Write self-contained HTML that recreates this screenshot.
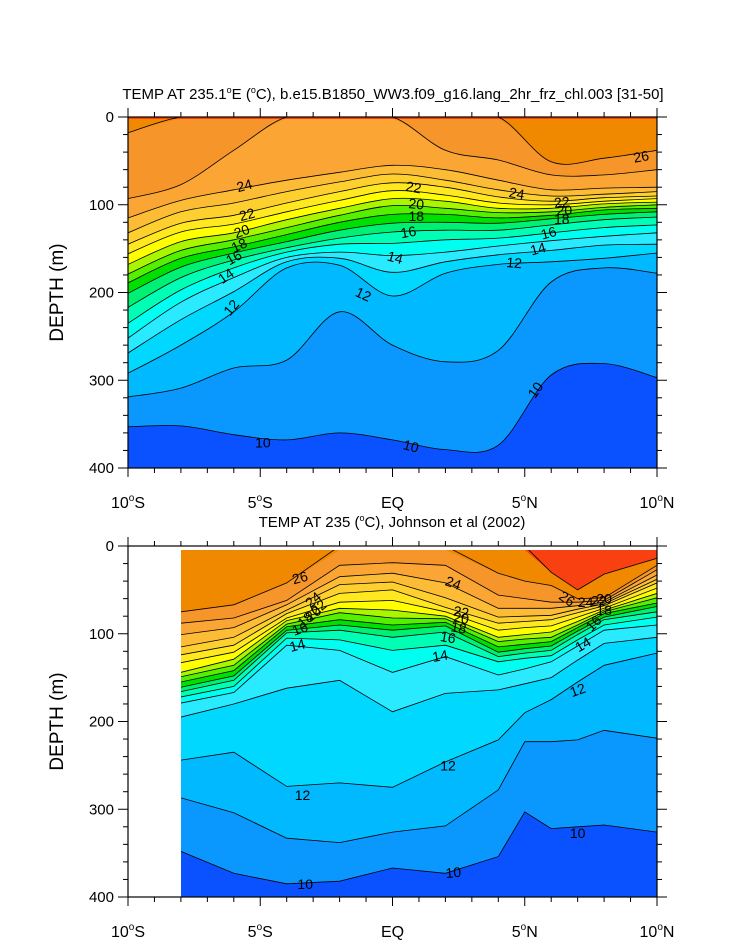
<!DOCTYPE html>
<html><head><meta charset="utf-8"><style>
html,body{margin:0;padding:0;background:#fff;}
svg{display:block;font-family:"Liberation Sans",Arial,sans-serif;}
</style></head><body>
<svg id="chart" width="733" height="945" viewBox="0 0 733 945" xmlns="http://www.w3.org/2000/svg">
<defs>
<clipPath id="clipTop"><rect x="128" y="117" width="529" height="351"/></clipPath>
<clipPath id="clipBot"><rect x="181" y="550" width="476" height="347"/></clipPath>
</defs>
<g id="topPanel"></g>
<g id="botPanel"></g>
</svg>
<script>
// ---------- data ----------
const levels = [10,11,12,13,14,15,16,17,18,19,20,21,22,23,24,25,26,27];
const bandColors = ["#0A98FF","#00B9FF","#00D8FF","#2AEAFF","#00FFF0","#00FFB4","#00F074","#00E000","#55F000","#AAF500","#FFFF00","#FFE820","#FDD030","#FCBC35","#FAA534","#F6952A","#F08800","#F84010"];
const coldColor = "#0A52FF";

const topLats = [-10,-8,-6,-4,-2,0,2,4,6,8,10];
const top10 = [353,352,362,368,360,368,379,374,294,281,297];
const top11 = [319,309,286,277,222,260,279,266,188,172,178];
const top12 = [292,260,222,172,169,204,178,168,165,161,155];
const top13 = [269,231,199,165,161,177,165,157,152,146,145];
const top14 = [252,211,183,160,154,158,154,147,141,136,132];
const top15 = [235,197,172,154,145,144,140,138,132,126,123];
const top16 = [217,183,163,149,138,131,129,129,123,117,114];
const top17 = [201,171,155,142,129,121,120,121,116,111,108];
const top18 = [189,161,148,134,120,111,111,115,112,106,104];
const top19 = [179,152,140,126,112,101,104,109,108,103,100];
const top20 = [168,142,132,117,104,93,96,104,104,99,97];
const top21 = [156,131,122,108,95,84,89,98,100,96,93];
const top22 = [145,121,112,98,85,75,80,91,96,92,90];
const top23 = [132,108,98,85,74,65,72,83,90,88,85];
const top24 = [115,95,83,72,63,55,60,72,83,81,80];
const top25 = [93,77,38,0,0,0,38,49,66,66,60];
const top26 = [18,0,0,0,0,0,0,0,51,47,38];
const top27 = [0,0,0,0,0,0,0,0,0,0,0];

const botLats = [-8,-6,-4,-2,0,2,4,5,6,7,8,10];
const bot10 = [348,373,385,382,367,373,354,303,322,320,318,326];
const bot11 = [287,304,333,338,326,319,278,223,223,221,210,219];
const bot12 = [244,235,274,270,275,246,221,190,175,155,136,122];
const bot13 = [195,180,162,153,189,168,164,157,150,130,111,104];
const bot14 = [179,167,113,119,144,126,147,140,132,114,96,90];
const bot15 = [172,160,105,107,119,113,132,128,125,107,90,81];
const bot16 = [166,153,99,96,104,98,126,122,119,101,84,75];
const bot17 = [161,148,96,90,96,91,121,117,114,97,81,69];
const bot18 = [155,142,92,84,90,87,115,112,109,93,77,65];
const bot19 = [149,136,89,76,82,83,109,106,104,90,75,59];
const bot20 = [144,129,85,71,73,80,104,101,98,86,73,54];
const bot21 = [133,121,82,64,62,75,96,93,91,81,71,48];
const bot22 = [124,113,77,54,50,70,88,86,84,76,68,42];
const bot23 = [115,104,73,44,41,59,81,80,79,72,66,38];
const bot24 = [101,93,67,35,31,42,71,71,71,68,64,33];
const bot25 = [88,82,62,22,19,22,56,60,64,64,62,27];
const bot26 = [75,67,42,0,0,0,31,40,45,60,59,22];
const bot27 = [0,0,0,0,0,0,0,0,30,50,32,14];

const yTicks = [0,100,200,300,400];
const xTickLats = [-10,-5,0,5,10];
const xTickLabels = ["10°S","5°S","EQ","5°N","10°N"];

const topLabels = [["24",-5.6,78,-15],["22",-5.5,111,-15],["20",-5.7,130,-20],["18",-5.8,146,-25],["16",-6.0,160,-30],["14",-6.3,181,-35],["12",-6.1,217,-50],["12",-1.1,202,25],["22",0.8,80,10],["20",0.9,99,5],["18",0.9,113,0],["16",0.6,131,-10],["14",0.1,160,15],["12",4.6,166,5],["24",4.7,87,10],["22",6.4,97,-5],["20",6.5,106,0],["18",6.4,116,0],["16",5.9,132,-15],["14",5.5,150,-15],["26",9.4,45,-10],["10",-4.9,371,0],["10",0.7,375,15],["10",5.4,311,-55]];
const botLabels = [["26",-3.5,36,-15],["24",-3.0,61,-40],["22",-2.8,70,-40],["20",-3.0,77,-40],["18",-3.3,84,-40],["16",-3.5,94,-20],["14",-3.6,113,-15],["24",2.3,42,20],["22",2.6,75,10],["20",2.6,82,10],["18",2.5,93,10],["16",2.1,104,10],["14",1.8,125,-10],["26",6.6,60,35],["24",7.3,64,0],["22",7.8,62,0],["20",8.0,60,0],["18",8.0,73,0],["16",7.6,88,-45],["14",7.2,112,-30],["12",7.0,164,-20],["12",-3.4,284,0],["12",2.1,250,0],["10",-3.3,385,0],["10",2.3,372,-5],["10",7.0,327,0]];

// ---------- drawing ----------
const NS = "http://www.w3.org/2000/svg";
function mk(tag, attrs, parent){const e=document.createElementNS(NS,tag);for(const k in attrs)e.setAttribute(k,attrs[k]);parent.appendChild(e);return e;}

function makeAxes(x0,x1,y0,y1){
  return {x:lat=>x0+(lat+10)/20*(x1-x0), y:d=>y0+d/400*(y1-y0)};
}
function smoothPath(pts){
  let s="";
  for(let i=0;i<pts.length-1;i++){
    const p0=pts[Math.max(0,i-1)],p1=pts[i],p2=pts[i+1],p3=pts[Math.min(pts.length-1,i+2)];
    const c1=[p1[0]+(p2[0]-p0[0])/6,p1[1]+(p2[1]-p0[1])/6];
    const c2=[p2[0]-(p3[0]-p1[0])/6,p2[1]-(p3[1]-p1[1])/6];
    s+=` C${c1[0].toFixed(1)},${c1[1].toFixed(1)} ${c2[0].toFixed(1)},${c2[1].toFixed(1)} ${p2[0].toFixed(1)},${p2[1].toFixed(1)}`;
  }
  return s;
}
function linePath(pts){return pts.slice(1).map(p=>` L${p[0].toFixed(1)},${p[1].toFixed(1)}`).join("");}

function drawPanel(g, ax, lats, series, clipId, smooth, dataTop, labels, frame){
  const [fx0,fx1,fy0,fy1]=frame;
  const cg=mk("g",{"clip-path":`url(#${clipId})`},g);
  const xa=ax.x(lats[0]), xb=ax.x(lats[lats.length-1]);
  const bg=mk("rect",{x:xa,y:dataTop,width:xb-xa,height:fy1-dataTop,fill:coldColor},cg);
  
  
  series.forEach((vals,i)=>{
    const pts=lats.map((la,j)=>[ax.x(la),Math.max(dataTop,ax.y(vals[j]))]);
    const curve=smooth?smoothPath(pts):linePath(pts);
    const band=mk("path",{d:`M${xa},${dataTop-2} L${pts[0][0]},${pts[0][1]}`+curve+` L${xb},${dataTop-2} Z`,fill:bandColors[i]},cg);
    
    
  });
  series.forEach((vals,i)=>{
    const pts=lats.map((la,j)=>[ax.x(la),ax.y(vals[j])]);
    const curve=smooth?smoothPath(pts):linePath(pts);
    const ln=mk("path",{d:`M${pts[0][0]},${pts[0][1]}`+curve,fill:"none",stroke:"#000","stroke-width":0.8},cg);
    
    
  });
  labels.forEach(l=>{
    const tx=ax.x(l[1]), ty=ax.y(l[2]);
    const t=mk("text",{x:tx,y:ty+5,"font-size":14,"text-anchor":"middle",transform:`rotate(${l[3]} ${tx} ${ty})`},g);
    t.textContent=l[0];
    
    
  });
  const fr=mk("rect",{x:fx0,y:fy0,width:fx1-fx0,height:fy1-fy0,fill:"none",stroke:"#000","stroke-width":1.2},g);
  
  
  for(let d=0;d<=400;d+=20){
    const y=ax.y(d), major=d%100===0, L=major?10:5;
    mk("line",{x1:fx0-L,y1:y,x2:fx0,y2:y,stroke:"#000","stroke-width":1},g);
    mk("line",{x1:fx1,y1:y,x2:fx1+L,y2:y,stroke:"#000","stroke-width":1},g);
  }
  yTicks.forEach(d=>{
    const t=mk("text",{x:fx0-14,y:ax.y(d)+5,"font-size":15,"text-anchor":"end"},g);
    t.textContent=String(d);
    
    
  });
  for(let la=-10;la<=10;la++){
    const x=ax.x(la), major=la%5===0, L=major?9:5;
    mk("line",{x1:x,y1:fy0-L,x2:x,y2:fy0,stroke:"#000","stroke-width":1},g);
    mk("line",{x1:x,y1:fy1,x2:x,y2:fy1+L,stroke:"#000","stroke-width":1},g);
  }
  xTickLats.forEach((la,i)=>{
    const x=ax.x(la);
    const t=mk("text",{x:x,y:fy1+40,"font-size":16,"text-anchor":"middle"},g);
    const lab=xTickLabels[i];
    if(lab.indexOf("°")>=0){
      const parts=lab.split("°");
      t.appendChild(document.createTextNode(parts[0]));
      const sp=mk("tspan",{"font-size":10,dy:-7},t); sp.textContent="o";
      const sp2=mk("tspan",{dy:7},t); sp2.textContent=parts[1];
    } else t.textContent=lab;
    
    
  });
  const yt=mk("text",{x:0,y:0,"font-size":19,"text-anchor":"middle",transform:`translate(63 ${(fy0+fy1)/2}) rotate(-90)`},g);
  yt.textContent="DEPTH (m)";
  
  
}

const topAx=makeAxes(128,657,117,468);
drawPanel(document.getElementById("topPanel"),topAx,topLats,
  [top10,top11,top12,top13,top14,top15,top16,top17,top18,top19,top20,top21,top22,top23,top24,top25,top26,top27],
  "clipTop",true,119,topLabels,[128,657,117,468]);
const botAx=makeAxes(128,657,546,897);
drawPanel(document.getElementById("botPanel"),botAx,botLats,
  [bot10,bot11,bot12,bot13,bot14,bot15,bot16,bot17,bot18,bot19,bot20,bot21,bot22,bot23,bot24,bot25,bot26,bot27],
  "clipBot",false,550,botLabels,[128,657,546,897]);

const svg=document.getElementById("chart");
const t1=mk("text",{x:393,y:99,"font-size":15,"text-anchor":"middle"},svg);


t1.appendChild(document.createTextNode("TEMP AT 235.1"));
let s=mk("tspan",{"font-size":9,dy:-6},t1);s.textContent="o";
s=mk("tspan",{dy:6},t1);s.textContent="E (";
s=mk("tspan",{"font-size":9,dy:-6},t1);s.textContent="o";
s=mk("tspan",{dy:6},t1);s.textContent="C), b.e15.B1850_WW3.f09_g16.lang_2hr_frz_chl.003 [31-50]";

const t2=mk("text",{x:392,y:527,"font-size":15,"text-anchor":"middle"},svg);


t2.appendChild(document.createTextNode("TEMP AT 235 ("));
s=mk("tspan",{"font-size":9,dy:-6},t2);s.textContent="o";
s=mk("tspan",{dy:6},t2);s.textContent="C), Johnson et al (2002)";
</script>
</body></html>
